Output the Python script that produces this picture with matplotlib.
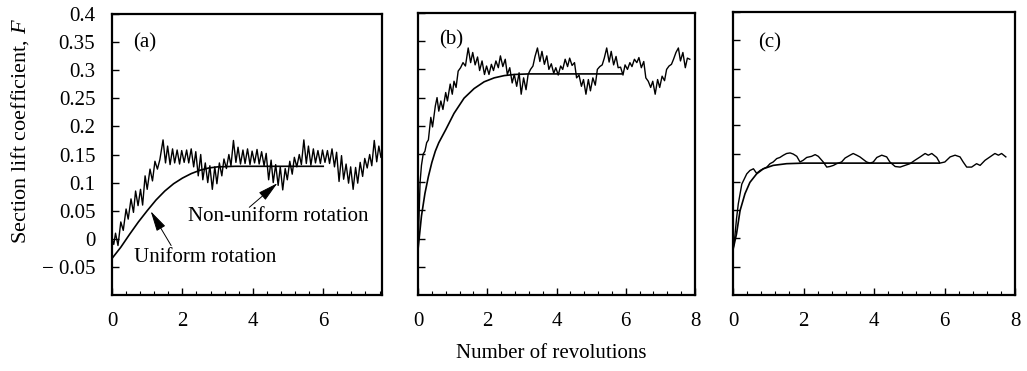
import numpy as np
import matplotlib
matplotlib.use("Agg")
import matplotlib.pyplot as plt
from matplotlib.ticker import MultipleLocator, FixedLocator

plt.rcParams['font.family'] = ['Liberation Serif', 'DejaVu Serif']
plt.rcParams['mathtext.fontset'] = 'custom'
plt.rcParams['mathtext.it'] = 'Liberation Serif:italic'
plt.rcParams['mathtext.rm'] = 'Liberation Serif'

# ---- data ----
y_ticks = [-0.05, 0, 0.05, 0.1, 0.15, 0.2, 0.25, 0.3, 0.35, 0.4]
y_ticklabels = ['\u2212 0.05', '0', '0.05', '0.1', '0.15', '0.2', '0.25', '0.3', '0.35', '0.4']
panel_labels = ['(a)', '(b)', '(c)']

# (a) uniform rotation
xa_uni = [0, 0.25, 0.5, 0.75, 1.0, 1.25, 1.5, 1.75, 2.0, 2.25, 2.5, 2.75, 3.0, 3.5, 4.0, 5.0, 6.0]
ya_uni = [-0.035, -0.015, 0.008, 0.03, 0.05, 0.069, 0.085, 0.098, 0.108, 0.116, 0.122, 0.126,
          0.128, 0.129, 0.129, 0.129, 0.129]

# (a) non-uniform rotation
xa_non = [0.00, 0.05, 0.10, 0.17, 0.25, 0.32, 0.40, 0.46, 0.54, 0.61, 0.67, 0.74, 0.81, 0.87,
          0.94, 1.00, 1.08, 1.15, 1.22, 1.29, 1.36,
          1.45, 1.52, 1.58, 1.65, 1.72, 1.78, 1.85, 1.92, 1.98, 2.05, 2.12, 2.18, 2.25, 2.32, 2.38,
          2.45, 2.52, 2.58, 2.65, 2.72, 2.78, 2.85, 2.92, 2.98, 3.05, 3.12, 3.18, 3.25, 3.32, 3.38,
          3.45, 3.52, 3.58, 3.65, 3.72, 3.78, 3.85, 3.92, 3.98, 4.05, 4.12, 4.18, 4.25, 4.32, 4.38,
          4.45, 4.52, 4.58, 4.65, 4.72, 4.78, 4.85, 4.92, 4.98, 5.05, 5.12, 5.18, 5.25, 5.32, 5.38,
          5.45, 5.52, 5.58, 5.65, 5.72, 5.78, 5.85, 5.92, 5.98, 6.05, 6.12, 6.18, 6.25, 6.32, 6.38,
          6.45, 6.52, 6.58, 6.65, 6.72, 6.78, 6.85, 6.92, 6.98, 7.05, 7.12, 7.18, 7.25, 7.32, 7.38,
          7.45, 7.52, 7.58, 7.64]
ya_non = [0.000, -0.010, 0.010, -0.012, 0.030, 0.015, 0.053, 0.035, 0.071, 0.047, 0.085, 0.059,
          0.088, 0.060, 0.112, 0.088, 0.124, 0.103, 0.138, 0.124, 0.141,
          0.176, 0.135, 0.165, 0.132, 0.160, 0.135, 0.158, 0.133, 0.157, 0.136, 0.158, 0.135, 0.160,
          0.128, 0.155, 0.112, 0.150, 0.105, 0.135, 0.100, 0.130, 0.088, 0.128, 0.098, 0.135, 0.112,
          0.142, 0.125, 0.150, 0.130,
          0.175, 0.136, 0.163, 0.133, 0.158, 0.134, 0.160, 0.132, 0.156, 0.135, 0.159, 0.133, 0.155,
          0.130, 0.152, 0.105, 0.140, 0.100, 0.132, 0.095, 0.128, 0.087, 0.125, 0.105, 0.138, 0.115,
          0.145, 0.128, 0.150, 0.132,
          0.176, 0.134, 0.165, 0.131, 0.160, 0.135, 0.157, 0.134, 0.158, 0.136, 0.157, 0.134, 0.160,
          0.128, 0.154, 0.102, 0.148, 0.106, 0.133, 0.099, 0.128, 0.088, 0.127, 0.099, 0.136, 0.111,
          0.143, 0.126, 0.150, 0.130,
          0.175, 0.137, 0.165, 0.145]

# (b) uniform rotation
xb_uni = [0, 0.1, 0.2, 0.3, 0.4, 0.5, 0.6, 0.8, 1.04, 1.33, 1.62, 1.91, 2.2, 2.49, 2.78, 3.2, 5.87]
yb_uni = [-0.02, 0.04, 0.08, 0.11, 0.135, 0.155, 0.17, 0.193, 0.222, 0.249, 0.266, 0.278,
          0.285, 0.289, 0.291, 0.292, 0.292]

# (b) non-uniform rotation
xb_non = [0.00, 0.03, 0.06, 0.10, 0.15, 0.20, 0.25, 0.30, 0.37, 0.42, 0.50, 0.55, 0.60, 0.66,
          0.72, 0.80, 0.85, 0.93, 0.99, 1.04, 1.10, 1.16, 1.23, 1.30, 1.37,
          1.45, 1.52, 1.58, 1.65, 1.72, 1.78, 1.85, 1.92, 1.98, 2.05, 2.12, 2.18, 2.25, 2.32, 2.38,
          2.45, 2.52, 2.58, 2.65, 2.72, 2.78, 2.85, 2.92, 2.98, 3.05, 3.12, 3.18, 3.25, 3.32, 3.38,
          3.45, 3.52, 3.58, 3.65, 3.72, 3.78, 3.85, 3.92, 3.98, 4.05, 4.12, 4.18, 4.25, 4.32, 4.38,
          4.45, 4.52, 4.58, 4.65, 4.72, 4.78, 4.85, 4.92, 4.98, 5.05, 5.12, 5.18, 5.25, 5.32, 5.38,
          5.45, 5.52, 5.58, 5.65, 5.72, 5.78, 5.85, 5.92, 5.98, 6.05, 6.12, 6.18, 6.25, 6.32, 6.38,
          6.45, 6.52, 6.58, 6.65, 6.72, 6.78, 6.85, 6.92, 6.98, 7.05, 7.12, 7.18, 7.25, 7.32, 7.38,
          7.45, 7.52, 7.58, 7.65, 7.72, 7.78, 7.85]
yb_non = [-0.020, 0.040, 0.100, 0.130, 0.150, 0.155, 0.170, 0.175, 0.215, 0.198, 0.235, 0.250,
          0.226, 0.244, 0.229, 0.259, 0.244, 0.274, 0.256, 0.279, 0.268, 0.297, 0.303, 0.312, 0.306,
          0.338, 0.312, 0.330, 0.308, 0.322, 0.298, 0.315, 0.291, 0.306, 0.291, 0.309, 0.298, 0.315,
          0.303, 0.324, 0.305, 0.318, 0.291, 0.303, 0.276, 0.291, 0.270, 0.294, 0.256, 0.285, 0.264,
          0.291, 0.300, 0.306, 0.323,
          0.338, 0.314, 0.332, 0.309, 0.324, 0.300, 0.310, 0.293, 0.303, 0.290, 0.306, 0.300, 0.318,
          0.305, 0.320, 0.307, 0.312, 0.285, 0.290, 0.270, 0.282, 0.256, 0.282, 0.262, 0.285, 0.272,
          0.300, 0.305, 0.308, 0.320,
          0.338, 0.313, 0.332, 0.308, 0.323, 0.303, 0.304, 0.290, 0.308, 0.300, 0.312, 0.305, 0.318,
          0.312, 0.321, 0.303, 0.314, 0.285, 0.279, 0.268, 0.279, 0.256, 0.282, 0.268, 0.288, 0.280,
          0.300, 0.306, 0.309, 0.318,
          0.330, 0.338, 0.315, 0.330, 0.303, 0.320, 0.318]

# (c) uniform rotation
xc_uni = [0, 0.1, 0.2, 0.34, 0.48, 0.67, 0.86, 1.14, 1.52, 2.0, 5.85]
yc_uni = [-0.02, 0.008, 0.049, 0.079, 0.099, 0.114, 0.123, 0.129, 0.132, 0.133, 0.133]

# (c) non-uniform rotation
xc_non = [0.00, 0.05, 0.10, 0.15, 0.25, 0.39, 0.48, 0.58, 0.67, 0.77, 0.86, 0.96, 1.05, 1.14,
          1.24, 1.33, 1.43, 1.52, 1.62, 1.71, 1.81, 1.90, 1.99, 2.09, 2.23, 2.33, 2.42, 2.56, 2.66,
          2.75, 2.85, 2.94, 3.08, 3.18, 3.32, 3.41, 3.51, 3.60, 3.79, 3.89, 3.98, 4.08, 4.22, 4.36,
          4.45, 4.60, 4.74, 4.88, 5.02, 5.16, 5.31, 5.45, 5.54, 5.64, 5.78, 5.87, 6.01, 6.16, 6.30,
          6.44, 6.53, 6.63, 6.77, 6.91, 7.01, 7.15, 7.29, 7.43, 7.53, 7.62, 7.74]
yc_non = [-0.020, 0.002, 0.035, 0.061, 0.096, 0.114, 0.120, 0.123, 0.115, 0.120, 0.123, 0.126,
          0.132, 0.135, 0.141, 0.143, 0.147, 0.150, 0.151, 0.149, 0.145, 0.135, 0.138, 0.143, 0.145,
          0.148, 0.145, 0.135, 0.126, 0.127, 0.129, 0.132, 0.135, 0.142, 0.147, 0.150, 0.147, 0.144,
          0.135, 0.133, 0.135, 0.143, 0.147, 0.144, 0.135, 0.127, 0.126, 0.129, 0.132, 0.138, 0.144,
          0.150, 0.147, 0.150, 0.143, 0.133, 0.135, 0.144, 0.147, 0.144, 0.135, 0.126, 0.126, 0.132,
          0.129, 0.138, 0.144, 0.150, 0.147, 0.150, 0.144]

panels = [
    (xa_uni, ya_uni, xa_non, ya_non, 7.67, [0, 2, 4, 6]),
    (xb_uni, yb_uni, xb_non, yb_non, 8.0, [0, 2, 4, 6, 8]),
    (xc_uni, yc_uni, xc_non, yc_non, 8.0, [0, 2, 4, 6, 8]),
]
label_pos = [(0.6, 0.348), (0.6, 0.352), (0.7, 0.345)]

# axes boxes in pixels (left, right, top, bottom) of a 1027x371 image
boxes = [(112, 382, 14, 295), (418, 695, 13, 295), (733, 1015, 12, 295)]
W, H = 1027, 371

fig = plt.figure(figsize=(W / 100, H / 100), dpi=100)
axes = []
for (l, r, t, b) in boxes:
    ax = fig.add_axes([l / W, 1 - b / H, (r - l) / W, (b - t) / H])
    axes.append(ax)

fs = 15
for i, (ax, (xu, yu, xn, yn, xmax, xt)) in enumerate(zip(axes, panels)):
    ax.plot(xn, yn, color='black', lw=1.0)
    ax.plot(xu, yu, color='black', lw=1.2)
    ax.set_xlim(0, xmax)
    ax.set_ylim(-0.1, 0.4)
    ax.xaxis.set_major_locator(FixedLocator(xt))
    ax.xaxis.set_minor_locator(MultipleLocator(0.4))
    ax.set_yticks(y_ticks)
    if i == 0:
        ax.set_yticklabels(y_ticklabels)
    else:
        ax.set_yticklabels([])
    ax.tick_params(axis='both', which='major', direction='in', length=5, width=1,
                   labelsize=fs, pad=12)
    ax.tick_params(axis='x', which='minor', direction='in', length=3, width=0.8)
    ax.tick_params(top=False, right=False)
    for sp in ax.spines.values():
        sp.set_linewidth(1.6)
    ax.text(label_pos[i][0], label_pos[i][1], panel_labels[i], fontsize=fs,
            ha='left', va='center')

ax = axes[0]
ax.text(2.15, 0.04, 'Non-uniform rotation', fontsize=fs, ha='left', va='center')
ax.text(0.62, -0.034, 'Uniform rotation', fontsize=fs, ha='left', va='center')
arrow = dict(arrowstyle='-|>,head_length=0.9,head_width=0.22', color='black', lw=0.7,
             shrinkA=0, shrinkB=0, mutation_scale=14)
ax.annotate('', xy=(4.7, 0.099), xytext=(3.9, 0.056), arrowprops=arrow)
ax.annotate('', xy=(1.1, 0.049), xytext=(1.68, -0.012), arrowprops=arrow)

fig.text(20 / W, 1 - 131 / H, 'Section lift coefficient, $F$', rotation=90,
         fontsize=16, ha='center', va='center')
fig.text(551 / W, 1 - 354 / H, 'Number of revolutions', fontsize=fs,
         ha='center', va='center')

fig.savefig('out.png', dpi=100)
